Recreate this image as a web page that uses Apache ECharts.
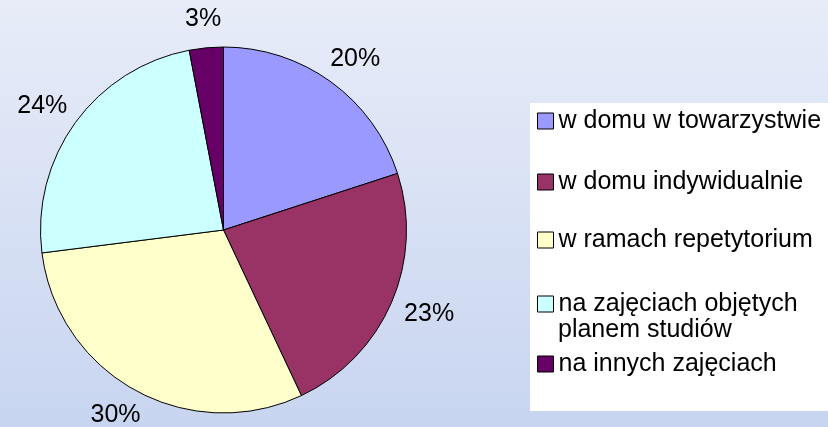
<!DOCTYPE html>
<html>
<head>
<meta charset="utf-8">
<script src="https://cdn.jsdelivr.net/npm/echarts@6/dist/echarts.min.js"></script>
<style>
  html, body { margin: 0; padding: 0; }
  #chart { width: 828px; height: 427px; }
</style>
</head>
<body>
<div id="chart"></div>
<script>
const categories = [
  "w domu w towarzystwie",
  "w domu indywidualnie",
  "w ramach repetytorium",
  "na zajęciach objętych\nplanem studiów",
  "na innych zajęciach"
];
const shares = [20, 23, 30, 24, 3];
const colors = ["#9999FF", "#993366", "#FFFFCC", "#CCFFFF", "#660066"];

const cx = 223.5, cy = 230, radius = 183;
const labelGap = 16;
const font = "Liberation Sans, Arial, sans-serif";
const fontSize = 25;

// legend row centres (px from top)
const legendRows = [121, 182, 240, 304, 364];
const legendLineHeight = 26;

const chart = echarts.init(document.getElementById("chart"));

// one legend per entry so the rows sit where the original has them;
// a wrapped name shows its first line in the legend, the rest as text below
const legends = categories.map((name, i) => ({
  show: true,
  data: [name],
  left: 537,
  top: legendRows[i] - 13,
  padding: 0,
  icon: "rect",
  itemWidth: 16,
  itemHeight: 16,
  selectedMode: false,
  formatter: (n) => n.split("\n")[0],
  itemStyle: { borderColor: "#000", borderWidth: 1 },
  textStyle: {
    fontFamily: font,
    fontSize: fontSize,
    lineHeight: legendLineHeight,
    color: "#000"
  }
}));

const extraLines = [];
categories.forEach((name, i) => {
  name.split("\n").slice(1).forEach((line, j) => {
    extraLines.push({
      type: "text",
      z: 10,
      left: 558,
      top: legendRows[i] + (j + 1) * legendLineHeight - 13,
      style: {
        text: line,
        fontFamily: font,
        fontSize: fontSize,
        lineHeight: legendLineHeight,
        fill: "#000"
      }
    });
  });
});

const option = {
  backgroundColor: {
    type: "linear", x: 0, y: 0, x2: 0, y2: 1,
    colorStops: [
      { offset: 0, color: "#e7ecf8" },
      { offset: 1, color: "#c8d5f0" }
    ]
  },
  animation: false,
  graphic: [
    {
      type: "rect",
      z: 0,
      shape: { x: 530, y: 103, width: 298, height: 308 },
      style: { fill: "#fff" }
    }
  ].concat(extraLines),
  legend: legends,
  series: [
    {
      type: "pie",
      center: [cx, cy],
      radius: radius,
      startAngle: 90,
      clockwise: true,
      avoidLabelOverlap: false,
      data: categories.map((name, i) => ({
        name: name,
        value: shares[i],
        itemStyle: { color: colors[i] }
      })),
      itemStyle: { borderColor: "#000", borderWidth: 1 },
      label: {
        show: true,
        position: "outside",
        formatter: "{c}%",
        fontFamily: font,
        fontSize: fontSize,
        color: "#000"
      },
      labelLine: {
        show: true,
        length: 0,
        length2: 0,
        lineStyle: { opacity: 0 }
      },
      // put each label box just off the rim, pushed out by half its size
      labelLayout: function (params) {
        const pts = params.labelLinePoints;
        if (!pts) return {};
        const dx = pts[0][0] - cx, dy = pts[0][1] - cy;
        const d = Math.sqrt(dx * dx + dy * dy) || 1;
        const ux = dx / d, uy = dy / d;
        const w = params.labelRect.width, h = params.labelRect.height;
        return {
          x: cx + ux * (radius + labelGap) + ux * w / 2,
          y: cy + uy * (radius + labelGap) + uy * h / 2,
          align: "center",
          verticalAlign: "middle"
        };
      },
      emphasis: { disabled: true }
    }
  ]
};

chart.setOption(option);
</script>
</body>
</html>
